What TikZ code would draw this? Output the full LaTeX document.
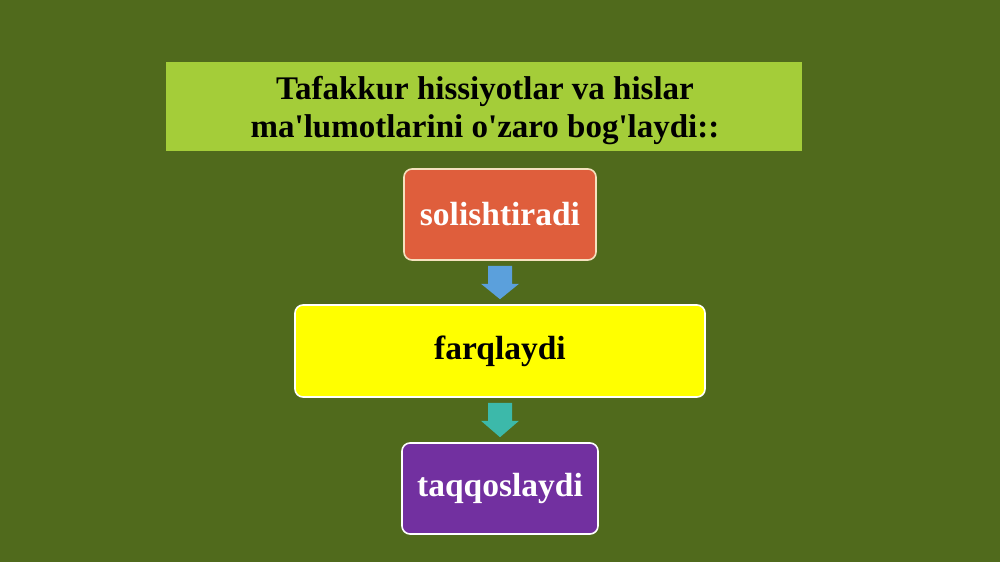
\documentclass[tikz,border=0pt]{standalone}
\usepackage{fontspec}
\setmainfont{Liberation Serif}
\usetikzlibrary{calc}
\definecolor{bg}{RGB}{80,106,28}
\definecolor{titlegreen}{RGB}{164,205,57}
\definecolor{boxred}{RGB}{223,94,60}
\definecolor{boxyellow}{RGB}{255,255,0}
\definecolor{boxpurple}{RGB}{114,48,160}
\definecolor{cream}{RGB}{245,225,190}
\definecolor{arrblue}{RGB}{91,160,220}
\definecolor{arrteal}{RGB}{60,185,170}
\tikzset{
  stepbox/.style={draw=white, line width=1.6pt, rounded corners=8pt, inner sep=0pt,
    font=\fontsize{33.5}{38}\selectfont\bfseries}
}
\begin{document}
\begin{tikzpicture}[x=1pt,y=-1pt]
\fill[bg] (0,0) rectangle (1000,562);
\useasboundingbox (0,0) rectangle (1000,562);
\node[fill=titlegreen, minimum width=636pt, minimum height=89pt, inner sep=0pt,
  text=black] (title) at (484,106.5) {};
\node[font=\fontsize{33}{38}\selectfont\bfseries, align=center, text=black, inner sep=0pt]
  (titletext) at (485,111) {Tafakkur hissiyotlar va hislar\\ma\textquotesingle lumotlarini o\textquotesingle zaro bog\textquotesingle laydi::};
\node[stepbox, draw=cream, fill=boxred, text=white, minimum width=192pt, minimum height=91pt]
  (a) at (500,214.5) {solishtiradi};
\node[stepbox, fill=boxyellow, text=black, minimum width=410pt, minimum height=92pt]
  (b) at (500,351) {farqlaydi};
\node[stepbox, fill=boxpurple, text=white, minimum width=196pt, minimum height=91pt]
  (c) at (500,488.5) {taqqoslaydi};
\fill[arrblue] ($(a.south)+(-12,5)$) -- ($(a.south)+(12,5)$) -- ($(a.south)+(12,23)$)
  -- ($(a.south)+(19,23)$) -- ($(b.north)+(0,-5)$) -- ($(a.south)+(-19,23)$)
  -- ($(a.south)+(-12,23)$) -- cycle;
\fill[arrteal] ($(b.south)+(-12,5)$) -- ($(b.south)+(12,5)$) -- ($(b.south)+(12,23)$)
  -- ($(b.south)+(19,23)$) -- ($(c.north)+(0,-5)$) -- ($(b.south)+(-19,23)$)
  -- ($(b.south)+(-12,23)$) -- cycle;
\end{tikzpicture}
\end{document}
